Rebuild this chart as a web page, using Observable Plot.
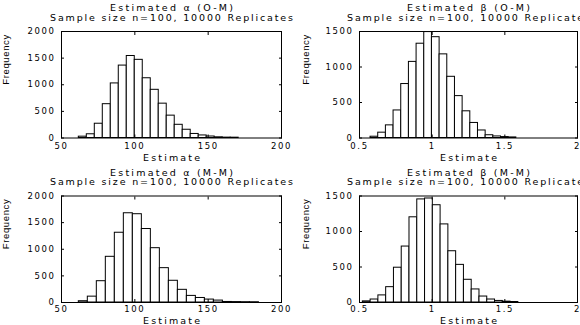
<!DOCTYPE html>
<html><head><meta charset="utf-8">
<script src="https://cdn.jsdelivr.net/npm/d3@7"></script>
<script src="https://cdn.jsdelivr.net/npm/@observablehq/plot@0.6"></script>
<style>
html,body{margin:0;padding:0;background:#fff;overflow:hidden;}
#root{position:relative;width:580px;height:325px;background:#fff;}
#root svg{position:absolute;}
</style></head><body><div id="root"></div>
<script>
// ---- data ----
const titles = ["Estimated α (O-M)", "Estimated β (O-M)", "Estimated α (M-M)", "Estimated β (M-M)"];
const subtitle = "Sample size n=100, 10000 Replicates";
const xLabel = "Estimate";
const yLabel = "Frequency";

const alphaXTicks = [50, 100, 150, 200];
const alphaYTicks = [0, 500, 1000, 1500, 2000];
const betaXTicks = [0.5, 1, 1.5, 2];
const betaYTicks = [0, 500, 1000, 1500];

// histogram bins: first edge, bin width, counts
const alphaOMStart = 61.8, alphaOMWidth = 5.45;
const alphaOMCounts = [25, 70, 268, 635, 1025, 1360, 1540, 1468, 1122, 905, 645, 420, 248, 155, 76, 48, 28, 13, 7, 6];

const betaOMStart = 0.576, betaOMWidth = 0.0528;
const betaOMCounts = [18, 75, 178, 388, 760, 1072, 1328, 1492, 1420, 1178, 862, 590, 376, 212, 106, 39, 22, 13, 8];

const alphaMMStart = 61.8, alphaMMWidth = 6.14;
const alphaMMCounts = [24, 110, 400, 858, 1310, 1676, 1658, 1380, 1020, 645, 408, 238, 124, 85, 55, 36, 10, 8, 6, 5];

const betaMMStart = 0.523, betaMMWidth = 0.0535;
const betaMMCounts = [16, 42, 100, 216, 490, 788, 1200, 1452, 1465, 1370, 1100, 722, 530, 320, 184, 84, 42, 22, 12, 7];

const panels = [
  {title: titles[0], start: alphaOMStart, width: alphaOMWidth, counts: alphaOMCounts, xDomain: [50, 200], xTicks: alphaXTicks, yDomain: [0, 2000], yTicks: alphaYTicks, left: 0, top: 0, mTop: 31, mBottom: 25.5, mLeft: 61, mRight: 9, xPad: 5, labDy: 19.5, freqDx: -56},
  {title: titles[1], start: betaOMStart, width: betaOMWidth, counts: betaOMCounts, xDomain: [0.5, 2], xTicks: betaXTicks, yDomain: [0, 1500], yTicks: betaYTicks, left: 290, top: 0, mTop: 31, mBottom: 25.5, mLeft: 69, mRight: 3, xPad: 5, labDy: 19.5, freqDx: -53.5},
  {title: titles[2], start: alphaMMStart, width: alphaMMWidth, counts: alphaMMCounts, xDomain: [50, 200], xTicks: alphaXTicks, yDomain: [0, 2000], yTicks: alphaYTicks, left: 0, top: 162, mTop: 33.5, mBottom: 23, mLeft: 61, mRight: 9, xPad: 3, labDy: 18, freqDx: -56},
  {title: titles[3], start: betaMMStart, width: betaMMWidth, counts: betaMMCounts, xDomain: [0.5, 2], xTicks: betaXTicks, yDomain: [0, 1500], yTicks: betaYTicks, left: 290, top: 162, mTop: 33.5, mBottom: 23, mLeft: 69, mRight: 3, xPad: 3, labDy: 18, freqDx: -53.5}
];

const font = "'DejaVu Sans', sans-serif";
const root = document.getElementById("root");
const fitted = new Map([[subtitle, 243], [xLabel, 57], [yLabel, 50]]);
titles.forEach(t => fitted.set(t, 123));

for (const p of panels) {
  const bins = p.counts.map((c, i) => ({x1: p.start + i * p.width, x2: p.start + (i + 1) * p.width, count: c}));
  const blank = () => "";
  const fmt = d => String(d);
  const svg = Plot.plot({
    width: 290, height: 163,
    marginTop: p.mTop, marginBottom: p.mBottom, marginLeft: p.mLeft, marginRight: p.mRight,
    x: {domain: p.xDomain},
    y: {domain: p.yDomain},
    style: {background: "transparent", overflow: "visible", fontFamily: font, fontSize: "8.5px", color: "black", letterSpacing: "1.6px", maxWidth: "none"},
    marks: [
      Plot.rectY(bins, {x1: "x1", x2: "x2", y: "count", fill: "white", stroke: "black", strokeWidth: 1}),
      Plot.frame({stroke: "black", strokeWidth: 1}),
      Plot.axisX(p.xTicks, {anchor: "bottom", tickSize: 0, tickPadding: p.xPad, tickFormat: fmt, fill: "black", label: null}),
      Plot.axisX(p.xTicks, {anchor: "bottom", tickSize: -3, tickFormat: blank, label: null}),
      Plot.axisX(p.xTicks, {anchor: "top", tickSize: -3, tickFormat: blank, label: null}),
      Plot.axisY(p.yTicks, {anchor: "left", tickSize: 0, tickPadding: 6, tickFormat: fmt, fill: "black", label: null}),
      Plot.axisY(p.yTicks, {anchor: "left", tickSize: -3, tickFormat: blank, label: null}),
      Plot.axisY(p.yTicks, {anchor: "right", tickSize: -3, tickFormat: blank, label: null}),
      Plot.text([p.title], {text: d => d, frameAnchor: "top", dy: -23.5, lineAnchor: "middle", fontSize: 9.5, fill: "black"}),
      Plot.text([subtitle], {text: d => d, frameAnchor: "top", dy: -14, lineAnchor: "middle", fontSize: 9.5, fill: "black"}),
      Plot.text([xLabel], {text: d => d, frameAnchor: "bottom", dy: p.labDy, lineAnchor: "middle", fontSize: 9.5, fill: "black"}),
      Plot.text([yLabel], {text: d => d, frameAnchor: "left", dx: p.freqDx, rotate: -90, lineAnchor: "middle", fontSize: 9.5, fontFamily: "'Liberation Sans', sans-serif", fill: "black"})
    ]
  });
  svg.style.left = p.left + "px";
  svg.style.top = p.top + "px";
  d3.select(svg).selectAll("text").each(function () {
    const L = fitted.get(this.textContent);
    if (L) d3.select(this).style("letter-spacing", "0px").attr("textLength", L).attr("lengthAdjust", "spacing");
  });
  root.appendChild(svg);
}
</script></body></html>
